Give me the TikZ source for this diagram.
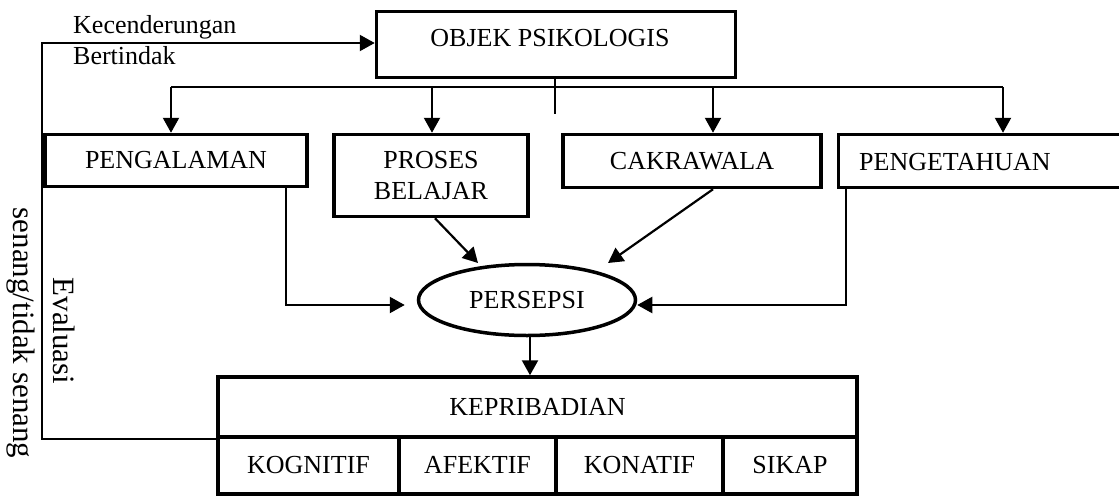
\documentclass[tikz,border=0pt]{standalone}
\usepackage{fontspec}
\setmainfont{Liberation Serif}
\usetikzlibrary{arrows.meta,shapes.geometric}
\newcommand{\dfont}{\fontsize{26}{31}\selectfont}
\newcommand{\rfont}{\fontsize{31}{37}\selectfont}
\begin{document}
\begin{tikzpicture}[x=1pt,y=-1pt,
  box/.style={draw,line width=3.5pt,inner sep=0pt,font=\dfont},
  cell/.style={box,minimum height=57,text height=17pt,text depth=1pt},
  txt/.style={inner sep=0pt,font=\dfont},
  conn/.style={line width=2.2pt},
  arr/.style={line width=2.2pt,-{Triangle[length=15pt,width=16pt]}},
]
\clip (0,0) rectangle (1119,496);
\useasboundingbox (0,0) rectangle (1119,496);

% top box
\node[box,minimum width=359,minimum height=66] (objek) at (556,44.5) {};
\node[txt,anchor=base] (objekt) at (550,46) {OBJEK PSIKOLOGIS};

% second row
\node[box,minimum width=262,minimum height=52] (peng) at (176,160.5) {PENGALAMAN};
\node[box,minimum width=194,minimum height=82,align=center] (proses) at (431,175.5) {PROSES\\BELAJAR};
\node[box,minimum width=258,minimum height=53] (cakra) at (692,161) {CAKRAWALA};
\node[box,minimum width=282,minimum height=53] (penget) at (979.5,161) {};
\node[txt,anchor=base west] (pengett) at (859,170) {PENGETAHUAN};

% persepsi
\node[box,ellipse,minimum width=217,minimum height=71] (pers) at (527,300) {PERSEPSI};

% kepribadian table
\node[box,minimum width=639,minimum height=60] (kep) at (537.5,407) {KEPRIBADIAN};
\node[cell,minimum width=181] (kog) at (308.5,465.5) {KOGNITIF};
\node[cell,minimum width=157] (afe) at (477.5,465.5) {AFEKTIF};
\node[cell,minimum width=167] (kon) at (639.5,465.5) {KONATIF};
\node[cell,minimum width=134] (sik) at (790,465.5) {SIKAP};

% labels
\node[txt,anchor=base west] (kec) at (73,33) {Kecenderungan};
\node[txt,anchor=base west] (bert) at (73,64) {Bertindak};
\node[font=\rfont,rotate=-90] (eval) at (64,331) {Evaluasi};
\node[font=\rfont,rotate=-90] (sts) at (21,333) {senang/tidak senang};

% feedback loop
\coordinate (fb2) at (42,43);
\draw[arr] (kep.south west) -| (fb2) -- (objek.west |- fb2);

% distribution
\coordinate (d1) at (171,87);
\coordinate (d2) at (432,87);
\coordinate (d3) at (713,87);
\coordinate (d4) at (1003,87);
\coordinate (st) at (555,114);
\draw[line width=1.4pt] (objek.south -| st) -- (st);
\draw[conn] (d1) -- (d4);
\draw[arr] (d1) -- (d1 |- peng.north);
\draw[arr] (d2) -- (d2 |- proses.north);
\draw[arr] (d3) -- (d3 |- cakra.north);
\draw[arr] (d4) -- (d4 |- penget.north);

% into persepsi
\coordinate (pa) at (286,305);
\coordinate (pb) at (846,305);
\coordinate (pp) at (435,0);
\coordinate (pc) at (713,0);
\coordinate (tp) at (478,263);
\coordinate (tc) at (608,263);
\draw[arr,shorten >=12pt] (peng.south -| pa) -- (pa) -- (pers.west |- pa);
\draw[arr] (penget.south -| pb) -- (pb) -- (pers.east |- pb);
\draw[arr] (proses.south -| pp) -- (tp);
\draw[arr] (cakra.south -| pc) -- (tc);

% persepsi to kepribadian
\coordinate (pk) at (530,0);
\draw[arr] (pers.south -| pk) -- (kep.north -| pk);
\end{tikzpicture}
\end{document}
